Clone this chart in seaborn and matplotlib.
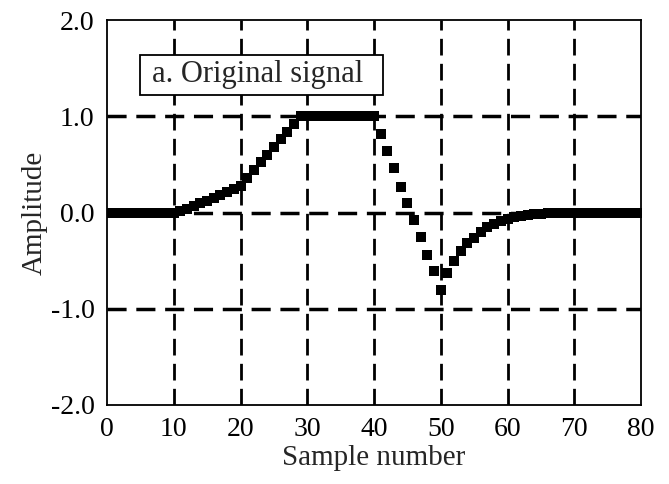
import numpy as np
import pandas as pd
import matplotlib
matplotlib.use("Agg")
import matplotlib.pyplot as plt
from matplotlib.patches import Rectangle
import seaborn as sns

sample = list(range(0, 81))
amplitude = (
    [0.0] * 10
    + [0.0, 0.02, 0.04, 0.07, 0.10, 0.12, 0.15, 0.18, 0.21, 0.24]          # 10-19
    + [0.28, 0.36, 0.44, 0.52, 0.60, 0.68, 0.76, 0.84, 0.92, 1.0]          # 20-29
    + [1.0] * 11                                                            # 30-40
    + [0.82, 0.64, 0.46, 0.27, 0.10, -0.08, -0.25, -0.44, -0.61, -0.80]    # 41-50
    + [-0.63, -0.50, -0.40, -0.32, -0.26, -0.20, -0.15, -0.12, -0.09, -0.07]  # 51-60
    + [-0.05, -0.04, -0.03, -0.02, -0.02, -0.01, -0.01, -0.01, 0.0, 0.0]   # 61-70
    + [0.0] * 10                                                            # 71-80
)
xticks = [0, 10, 20, 30, 40, 50, 60, 70, 80]
yticks = [-2.0, -1.0, 0.0, 1.0, 2.0]
ytick_labels = ["-2.0", "-1.0", "0.0", "1.0", "2.0"]
title_text = "a. Original signal"

df = pd.DataFrame({"Sample number": sample, "Amplitude": amplitude})

sns.set_style("white")
plt.rcParams["font.family"] = ["Liberation Serif", "DejaVu Serif"]

fig = plt.figure(figsize=(6.69, 4.84), dpi=100)
ax = fig.add_axes([107 / 669, 1 - 405 / 484, (641 - 107) / 669, (405 - 20) / 484])

sns.scatterplot(data=df, x="Sample number", y="Amplitude", marker="s", s=62,
                color="black", linewidth=0, ax=ax, zorder=3)

ax.set_xlim(0, 80)
ax.set_ylim(-2, 2)
ax.set_xticks(xticks)
ax.set_xticklabels([str(t) for t in xticks])
ax.set_yticks(yticks)
ax.set_yticklabels(ytick_labels)

for t in xticks[1:-1]:
    ax.axvline(t, color="black", lw=2.0, linestyle=(0, (6, 3)), zorder=1)
for t in [-1.0, 0.0, 1.0]:
    ax.axhline(t, color="black", lw=2.5, linestyle=(0, (5.5, 2.8)), zorder=1)

for sp in ax.spines.values():
    sp.set_visible(True)
    sp.set_color("black")
    sp.set_linewidth(1.3)

ax.tick_params(axis="both", direction="out", length=7, width=1.3, colors="black",
               labelsize=20, pad=2)
ax.set_xlabel("Sample number", fontsize=21, labelpad=2)
ax.set_ylabel("Amplitude", fontsize=21, labelpad=2)

ax.add_patch(Rectangle((4.9, 1.22), 36.4, 0.42, facecolor="white", edgecolor="black",
                       linewidth=1.3, zorder=4))
ax.text(6.8, 1.43, title_text, fontsize=22, va="center", ha="left", zorder=5)

fig.savefig("out.png", dpi=100)
